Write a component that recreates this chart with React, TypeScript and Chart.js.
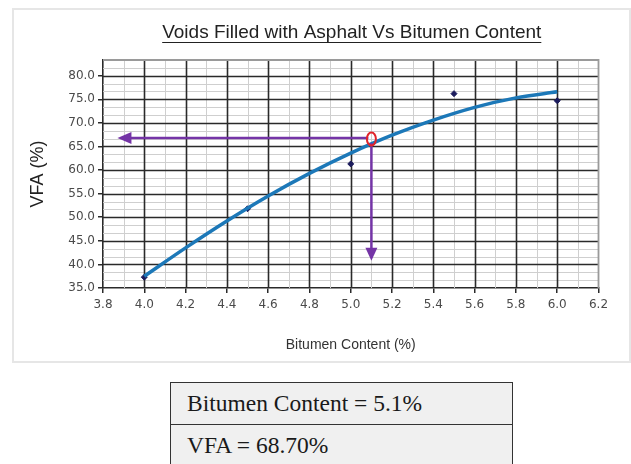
import React, { useEffect, useRef } from "react";
import { Chart, registerables } from "chart.js";

Chart.register(...registerables);

// ---- data ----
const curveBitumen = [4.0, 4.2, 4.4, 4.6, 4.8, 5.0, 5.2, 5.4, 5.6, 5.8, 6.0];
const curveVFA = [37.5, 43.5, 49.2, 54.5, 59.3, 63.6, 67.4, 70.6, 73.3, 75.3, 76.6];
const testBitumen = [4.0, 4.5, 5.0, 5.5, 6.0];
const testVFA = [37.3, 51.8, 61.3, 76.2, 74.7];

const readBitumen = 5.1;
const readVFA = 66.8;
const arrowLeftTip = 3.87;
const arrowDownTip = 40.8;

const xMin = 3.8;
const xMax = 6.2;
const yMin = 35;
const yMax = 80 + 10 / 3;

const chartTitle = "Voids Filled with Asphalt Vs Bitumen Content";
const xTitle = "Bitumen Content (%)";
const yTitle = "VFA (%)";
const resultLines = ["Bitumen Content = 5.1%", "VFA = 68.70%"];

// major tick labels
const xMajorTicks = [3.8, 4.0, 4.2, 4.4, 4.6, 4.8, 5.0, 5.2, 5.4, 5.6, 5.8, 6.0, 6.2];
const yMajorTicks = [35, 40, 45, 50, 55, 60, 65, 70, 75, 80];
// minor grid positions
const xMinorGrid = [3.9, 4.1, 4.3, 4.5, 4.7, 4.9, 5.1, 5.3, 5.5, 5.7, 5.9, 6.1];
const yMinorGrid: number[] = [];
for (let k = 1; 35 + (k * 5) / 3 < yMax + 0.01; k++) {
  if (k % 3 !== 0) yMinorGrid.push(35 + (k * 5) / 3);
}

const DARK = "#2a2a2a";
const LIGHT = "#cfcfcf";
const EDGE = "#9a9a9a";

const overlayPlugin = {
  id: "overlay",
  beforeDatasetsDraw(chart: any) {
    const { ctx, chartArea, scales } = chart;
    const xs = scales.x;
    const ys = scales.y;
    const { left, right, top, bottom } = chartArea;
    ctx.save();
    const vline = (v: number) => {
      const p = Math.round(xs.getPixelForValue(v)) + 0.5;
      ctx.beginPath();
      ctx.moveTo(p, top);
      ctx.lineTo(p, bottom);
      ctx.stroke();
    };
    const hline = (v: number) => {
      const p = Math.round(ys.getPixelForValue(v)) + 0.5;
      ctx.beginPath();
      ctx.moveTo(left, p);
      ctx.lineTo(right, p);
      ctx.stroke();
    };
    ctx.strokeStyle = LIGHT;
    ctx.lineWidth = 1;
    xMinorGrid.forEach(vline);
    yMinorGrid.forEach(hline);
    ctx.strokeStyle = DARK;
    ctx.lineWidth = 1.6;
    xMajorTicks.filter((v) => v > xMin && v < xMax).forEach(vline);
    yMajorTicks.filter((v) => v > yMin && v < yMax).forEach(hline);
    // edge border top/right
    ctx.strokeStyle = EDGE;
    ctx.lineWidth = 1.8;
    ctx.beginPath();
    ctx.moveTo(left, top);
    ctx.lineTo(right, top);
    ctx.lineTo(right, bottom);
    ctx.stroke();
    ctx.restore();
  },
  afterDatasetsDraw(chart: any) {
    const { ctx, scales } = chart;
    const xs = scales.x;
    const ys = scales.y;
    ctx.save();
    const px = xs.getPixelForValue(readBitumen);
    const py = ys.getPixelForValue(readVFA);
    const lx = xs.getPixelForValue(arrowLeftTip);
    const dy = ys.getPixelForValue(arrowDownTip);
    const purple = "#7434a6";
    ctx.strokeStyle = purple;
    ctx.fillStyle = purple;
    ctx.lineWidth = 2.5;
    // horizontal arrow
    ctx.beginPath();
    ctx.moveTo(px - 3, py);
    ctx.lineTo(lx + 10, py);
    ctx.stroke();
    ctx.beginPath();
    ctx.moveTo(lx, py);
    ctx.lineTo(lx + 14, py - 6);
    ctx.lineTo(lx + 14, py + 6);
    ctx.closePath();
    ctx.fill();
    // vertical arrow
    ctx.beginPath();
    ctx.moveTo(px, py + 5);
    ctx.lineTo(px, dy - 10);
    ctx.stroke();
    ctx.beginPath();
    ctx.moveTo(px, dy);
    ctx.lineTo(px - 6, dy - 13);
    ctx.lineTo(px + 6, dy - 13);
    ctx.closePath();
    ctx.fill();
    // red ellipse
    ctx.strokeStyle = "#e0242a";
    ctx.lineWidth = 2;
    ctx.beginPath();
    ctx.ellipse(px, py + 1, 4.5, 6.5, 0, 0, Math.PI * 2);
    ctx.stroke();
    ctx.restore();
  },
  afterDraw(chart: any) {
    const { ctx, chartArea } = chart;
    ctx.save();
    ctx.font = "19px 'Liberation Sans', Arial, sans-serif";
    ctx.fillStyle = "#222";
    ctx.textAlign = "center";
    ctx.textBaseline = "middle";
    const cx = (chartArea.left + chartArea.right) / 2 + 1;
    const cy = 33;
    ctx.fillText(chartTitle, cx, cy);
    const w = ctx.measureText(chartTitle).width;
    ctx.strokeStyle = "#222";
    ctx.lineWidth = 1.2;
    ctx.beginPath();
    ctx.moveTo(cx - w / 2, cy + 9.5);
    ctx.lineTo(cx + w / 2, cy + 9.5);
    ctx.stroke();
    ctx.restore();
  },
};

function VfaChart() {
  const ref = useRef<HTMLCanvasElement | null>(null);
  useEffect(() => {
    if (!ref.current) return;
    const chart = new Chart(ref.current, {
      type: "scatter",
      data: {
        datasets: [
          {
            type: "line",
            label: "Trend",
            data: curveBitumen.map((x, i) => ({ x, y: curveVFA[i] })),
            borderColor: "#1c78b8",
            borderWidth: 3.5,
            pointRadius: 0,
            cubicInterpolationMode: "monotone",
            fill: false,
          } as any,
          {
            label: "Test",
            data: testBitumen.map((x, i) => ({ x, y: testVFA[i] })),
            pointStyle: "rectRot",
            pointRadius: 3,
            backgroundColor: "#1b1b5c",
            borderColor: "#1b1b5c",
            showLine: false,
          },
        ],
      },
      options: {
        animation: false,
        responsive: false,
        layout: { padding: { top: 60, left: 0, right: 32.5, bottom: 0 } },
        plugins: {
          legend: { display: false },
          tooltip: { enabled: false },
          title: { display: false },
        },
        scales: {
          x: {
            type: "linear",
            min: xMin,
            max: xMax,
            afterBuildTicks: (s: any) => {
              s.ticks = xMajorTicks.map((v) => ({ value: v }));
            },
            afterFit: (s: any) => {
              s.height = 82;
            },
            ticks: {
              autoSkip: false,
              maxRotation: 0,
              padding: 5,
              color: "#4a4a4a",
              font: { family: "'DejaVu Sans', Verdana, sans-serif", size: 12 },
              callback: (v: any) => Number(v).toFixed(1),
            },
            grid: {
              drawOnChartArea: false,
              color: DARK,
              tickColor: DARK,
              lineWidth: 1.5,
              tickLength: 5,
            },
            border: { display: true, color: DARK, width: 1.6 },
            title: {
              display: true,
              text: xTitle,
              color: "#333",
              font: { family: "'Liberation Sans', Arial, sans-serif", size: 14 },
              padding: { top: 0, bottom: 16 },
            },
          },
          y: {
            type: "linear",
            min: yMin,
            max: yMax,
            afterBuildTicks: (s: any) => {
              s.ticks = yMajorTicks.map((v) => ({ value: v }));
            },
            afterFit: (s: any) => {
              s.width = 103;
            },
            ticks: {
              autoSkip: false,
              padding: 3,
              color: "#4a4a4a",
              font: { family: "'DejaVu Sans', Verdana, sans-serif", size: 12 },
              callback: (v: any) => Number(v).toFixed(1),
            },
            grid: {
              drawOnChartArea: false,
              color: DARK,
              tickColor: DARK,
              lineWidth: 1.5,
              tickLength: 5,
            },
            border: { display: true, color: DARK, width: 1.6 },
            title: {
              display: true,
              text: yTitle,
              color: "#222",
              font: { family: "'Liberation Sans', Arial, sans-serif", size: 18 },
              padding: { top: 27, bottom: 0 },
            },
          },
        },
      },
      plugins: [overlayPlugin],
    } as any);
    return () => chart.destroy();
  }, []);
  return (
    <canvas
      ref={ref}
      width={631}
      height={370}
      style={{ position: "absolute", left: 0, top: 0, width: 631, height: 370 }}
    />
  );
}

export default function App() {
  const rowStyle: React.CSSProperties = {
    height: 41,
    display: "flex",
    alignItems: "center",
    paddingLeft: 16,
    fontFamily: "'Liberation Serif', 'Times New Roman', serif",
    fontSize: 23.5,
    color: "#1a1a1a",
    whiteSpace: "nowrap",
  };
  return (
    <div style={{ position: "absolute", left: 0, top: 0, width: 631, height: 464, background: "#fff", overflow: "hidden" }}>
      <div
        style={{
          position: "absolute",
          left: 12,
          top: 8,
          width: 619,
          height: 355,
          border: "2px solid #e6e6e6",
          boxSizing: "border-box",
        }}
      />
      <VfaChart />
      <div
        style={{
          position: "absolute",
          left: 170,
          top: 382,
          width: 343,
          height: 100,
          border: "1.5px solid #333",
          background: "#f0f0f0",
          boxSizing: "border-box",
        }}
      >
        <div style={{ ...rowStyle, borderBottom: "1.5px solid #333" }}>{resultLines[0]}</div>
        <div style={{ ...rowStyle }}>{resultLines[1]}</div>
      </div>
    </div>
  );
}
